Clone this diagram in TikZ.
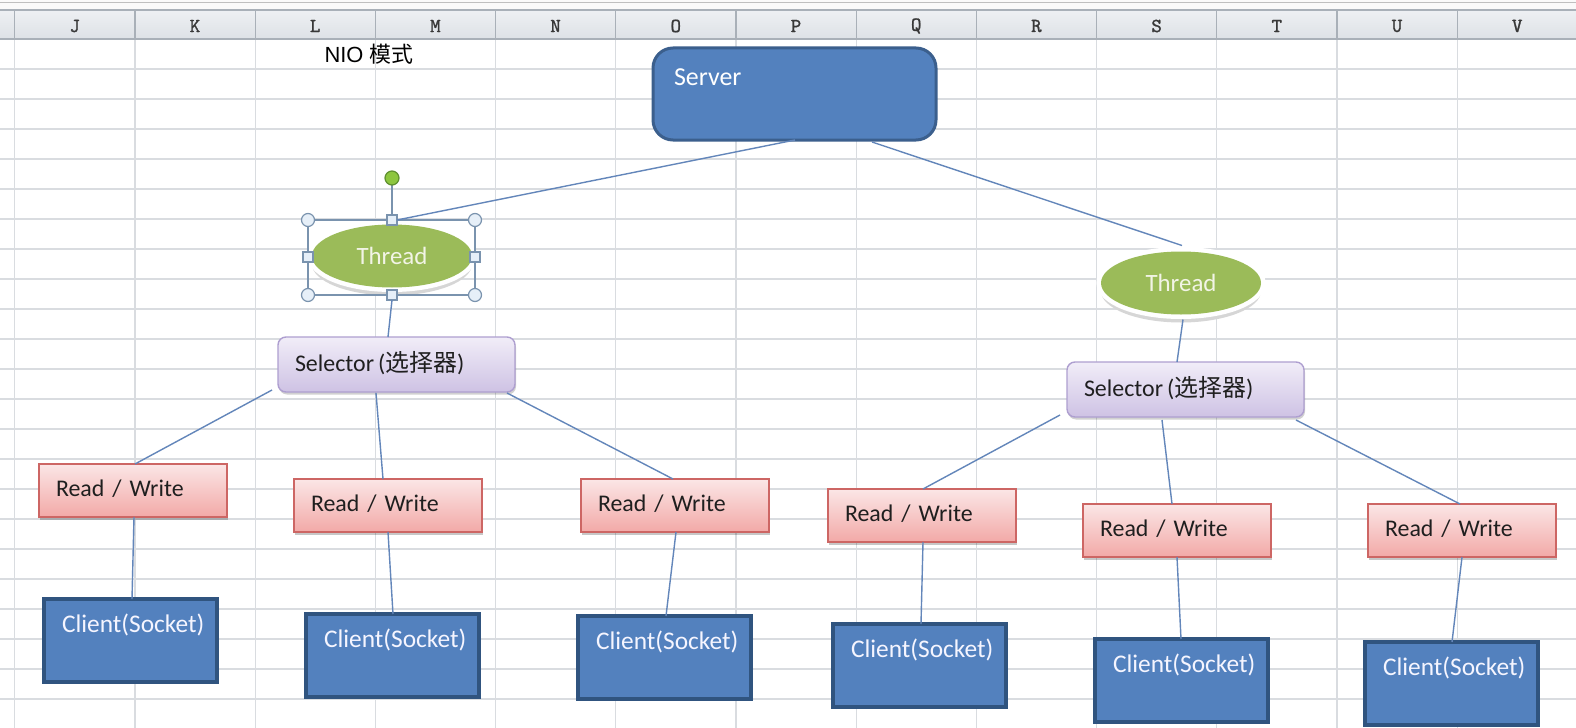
\documentclass[tikz,border=0pt]{standalone}
\usepackage{fontspec}
\setmainfont{Carlito}
\newfontfamily\cjk{Noto Sans CJK SC}
\newfontfamily\arialf{Liberation Sans}
\newfontfamily\hdrfont[FakeBold=1.3]{lmmono10-regular.otf}
\usetikzlibrary{calc,shapes.geometric,shadows}
\definecolor{gridc}{HTML}{D9DCE0}
\definecolor{hdrtop}{HTML}{EEF0F3}
\definecolor{hdrbot}{HTML}{DDE1E6}
\definecolor{hdrline}{HTML}{A9B0B8}
\definecolor{connc}{HTML}{6386BA}
\definecolor{bluefill}{HTML}{5381BE}
\definecolor{serverborder}{HTML}{3B5F8D}
\definecolor{clientborder}{HTML}{30547F}
\definecolor{threadfill}{HTML}{9BBB59}
\definecolor{threadtext}{HTML}{F2F4E6}
\definecolor{seltop}{HTML}{F1EDF8}
\definecolor{selbot}{HTML}{CEC2E4}
\definecolor{selborder}{HTML}{AE9FD0}
\definecolor{rwtop}{HTML}{FBE6E6}
\definecolor{rwbot}{HTML}{F2A9A7}
\definecolor{rwborder}{HTML}{CD6664}
\definecolor{handlec}{HTML}{7A93AE}
\definecolor{handlefill}{HTML}{E6EFF8}
\definecolor{greenhandle}{HTML}{8DC63F}
\definecolor{greenborder}{HTML}{5F9030}
\begin{document}
\begin{tikzpicture}[x=1bp,y=-1bp,
  gridline/.style={draw=gridc, line width=1.2bp},
  hdrsep/.style={draw=hdrline, line width=1.2bp},
  hdr/.style={font=\hdrfont\fontsize{20}{21}\selectfont, text=black!78, inner sep=0pt},
  conn/.style={draw=connc, line width=1.4bp},
  boxtext/.style={font=\fontsize{24}{28}\selectfont},
  serverbox/.style={rectangle, rounded corners=20bp, fill=bluefill, draw=serverborder,
    line width=3bp, outer sep=0pt, anchor=north west, text=white,
    font=\fontsize{26}{30}\selectfont,
    text width=241bp, inner xsep=21bp, inner ysep=10bp, align=left,
    text height=27bp, text depth=45bp},
  clientbox/.style={rectangle, fill=bluefill, draw=clientborder, line width=4bp,
    outer sep=0pt, anchor=north west, text=white!96!blue,
    font=\fontsize{25.5}{29}\selectfont,
    text width=137bp, inner xsep=18bp, inner ysep=10bp, align=left,
    text height=23bp, text depth=40bp},
  rwbox/.style={rectangle, draw=rwborder, line width=1.4bp, top color=rwtop,
    bottom color=rwbot, outer sep=0pt, anchor=north west, boxtext, text=black!88,
    text width=154bp, inner xsep=17bp, inner ysep=0pt, align=left,
    minimum height=53bp, text height=17bp, text depth=5bp,
    drop shadow={shadow xshift=1bp, shadow yshift=-2.5bp, opacity=0.22, fill=black}},
  selbox/.style={rectangle, rounded corners=8bp, draw=selborder, line width=1.4bp,
    top color=seltop, bottom color=selbot, outer sep=0pt, anchor=north west,
    boxtext, text=black!88, text width=203bp, inner xsep=17bp, inner ysep=0pt,
    align=left, minimum height=55bp, text height=18bp, text depth=5bp,
    drop shadow={shadow xshift=1bp, shadow yshift=-2.5bp, opacity=0.18, fill=black}},
  threadell/.style={ellipse, fill=threadfill, minimum width=160bp, minimum height=63bp,
    inner sep=0pt, outer sep=0pt, font=\fontsize{25}{29}\selectfont, text=threadtext,
    preaction={fill=black!16, transform canvas={yshift=-8bp}},
    preaction={draw=white, line width=9bp}},
  hcircle/.style={circle, fill=handlefill, draw=handlec, line width=1.2bp,
    minimum size=13bp, inner sep=0pt},
  hsquare/.style={rectangle, fill=handlefill, draw=handlec, line width=1.2bp,
    minimum size=10bp, inner sep=0pt, outer sep=0pt},
]
\useasboundingbox (0,0) rectangle (1576,728);
\fill[white] (0,0) rectangle (1576,728);

% ---- sheet grid ----
\foreach \j in {1,...,23} \draw[gridline] (0,{39+30*\j}) -- (1576,{39+30*\j});
\foreach \i in {0,...,13} \draw[gridline] ({14.7+120.2*\i},39) -- ({14.7+120.2*\i},728);

% ---- column header ----
\fill[white!96!gray] (0,0) rectangle (1576,10);
\draw[draw=black!25, line width=1bp] (0,2.5) -- (1576,2.5);
\shade[top color=hdrtop, bottom color=hdrbot] (0,10) rectangle (1576,39);
\draw[hdrsep] (0,10) -- (1576,10);
\draw[hdrsep] (0,39) -- (1576,39);
\foreach \i in {0,...,13} \draw[hdrsep] ({14.7+120.2*\i},10) -- ({14.7+120.2*\i},39);
\foreach \l [count=\i from 0] in {J,K,L,M,N,O,P,Q,R,S,T,U,V}
  \node[hdr] (hd\l) at ({14.7+120.2*(\i+0.5)},26) {\l};

% ---- title ----
\node[font=\fontsize{22}{25}\selectfont, inner sep=0pt] (title) at (369,54) {\arialf NIO \cjk 模式};

% ---- nodes ----
\node[serverbox] (server) at (653,48) {Server};

\node[threadell] (t1) at (392,256) {Thread};
\node[threadell] (t2) at (1181,283) {Thread};

\node[selbox] (sel1) at (278,337) {Selector\hspace{4bp}(\cjk 选择器\normalfont)};
\node[selbox] (sel2) at (1067,362) {Selector\hspace{4bp}(\cjk 选择器\normalfont)};

\node[rwbox] (rw1) at (39,464) {Read / Write};
\node[rwbox] (rw2) at (294,479) {Read / Write};
\node[rwbox] (rw3) at (581,479) {Read / Write};
\node[rwbox] (rw4) at (828,489) {Read / Write};
\node[rwbox] (rw5) at (1083,504) {Read / Write};
\node[rwbox] (rw6) at (1368,504) {Read / Write};

\node[clientbox] (c1) at (44,599) {Client(Socket)};
\node[clientbox] (c2) at (306,614) {Client(Socket)};
\node[clientbox] (c3) at (578,616) {Client(Socket)};
\node[clientbox] (c4) at (833,624) {Client(Socket)};
\node[clientbox] (c5) at (1095,639) {Client(Socket)};
\node[clientbox] (c6) at (1365,642) {Client(Socket)};

% ---- selection handles around the first Thread ----
\draw[draw=handlec, line width=1.2bp] (308,220) rectangle (475,295);
\draw[draw=handlec, line width=1.4bp] (392,185) -- (392,215);
\node[circle, fill=greenhandle, draw=greenborder, line width=1.2bp, minimum size=14bp, inner sep=0pt] (rot) at (392,178) {};
\node[hcircle] (hnw) at (308,220) {};
\node[hcircle] (hne) at (475,220) {};
\node[hcircle] (hsw) at (308,295) {};
\node[hcircle] (hse) at (475,295) {};
\node[hsquare] (hn) at (392,220) {};
\node[hsquare] (hw) at (308,257) {};
\node[hsquare] (he) at (475,257) {};
\node[hsquare] (hs) at (392,295) {};

% ---- connectors ----
\draw[conn] ($(server.south west)+(142,0)$) -- (hn.east);
\draw[conn] ($(server.south west)+(219,2)$) -- ($(t2.north)+(1,-6)$);
\draw[conn] (hs.south) -- ($(sel1.north west)+(110,0)$);
\draw[conn] ($(t2.south)+(2,5)$) -- ($(sel2.north west)+(110,0)$);

\draw[conn] ($(sel1.south west)+(-6,-2)$) -- ($(rw1.north west)+(96,0)$);
\draw[conn] ($(sel1.south west)+(98,1)$) -- ($(rw2.north west)+(89,0)$);
\draw[conn] ($(sel1.south east)+(-8,1)$) -- ($(rw3.north west)+(92,0)$);
\draw[conn] ($(sel2.south west)+(-7,-2)$) -- ($(rw4.north west)+(95,0)$);
\draw[conn] ($(sel2.south west)+(95,3)$) -- ($(rw5.north west)+(89,0)$);
\draw[conn] ($(sel2.south east)+(-8,3)$) -- ($(rw6.north west)+(92,0)$);

\draw[conn] ($(rw1.south west)+(95,0)$) -- ($(c1.north west)+(88,0)$);
\draw[conn] ($(rw2.south west)+(94,0)$) -- ($(c2.north west)+(87,0)$);
\draw[conn] ($(rw3.south west)+(95,0)$) -- ($(c3.north west)+(88,0)$);
\draw[conn] ($(rw4.south west)+(95,0)$) -- ($(c4.north west)+(88,0)$);
\draw[conn] ($(rw5.south west)+(94,0)$) -- ($(c5.north west)+(86,0)$);
\draw[conn] ($(rw6.south west)+(94,0)$) -- ($(c6.north west)+(87,0)$);
\end{tikzpicture}
\end{document}
